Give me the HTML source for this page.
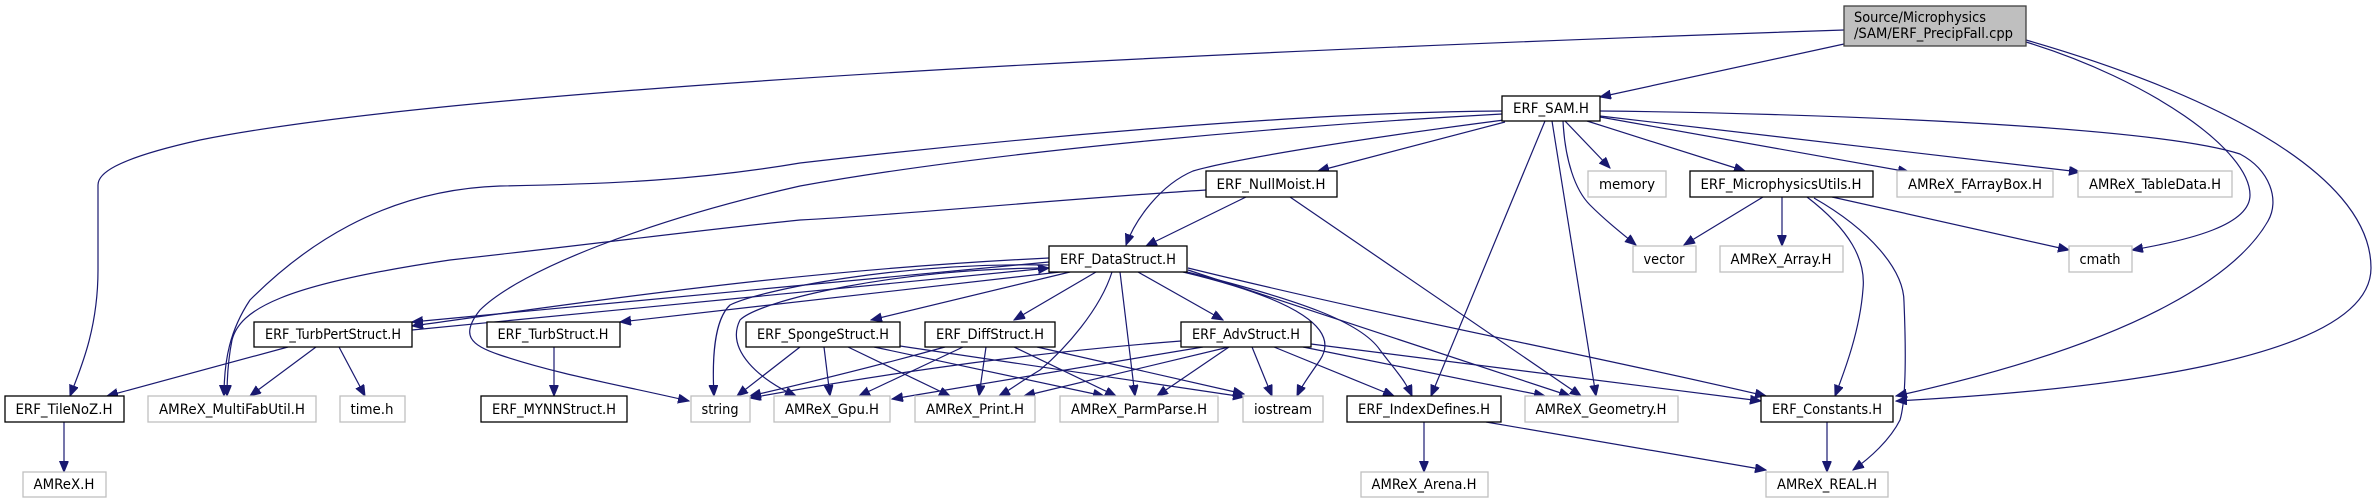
<!DOCTYPE html>
<html><head><meta charset="utf-8"><style>
html,body{margin:0;padding:0;background:#fff;}
svg{display:block;}
text{font-family:"DejaVu Sans Condensed","DejaVu Sans","Liberation Sans",sans-serif;font-size:14px;fill:#000;}
.e{fill:none;stroke:#191970;stroke-width:1.2;}
.n{fill:#fff;stroke:#000;stroke-width:1.3;}
.s{fill:#fff;stroke:#bfbfbf;stroke-width:1.3;}
</style></head><body>
<svg width="2377" height="500" viewBox="0 0 2377 500" xmlns="http://www.w3.org/2000/svg">
<defs>
<marker id="a" markerUnits="userSpaceOnUse" markerWidth="12" markerHeight="10" refX="11" refY="4.5" orient="auto">
<path d="M0,0 L11,4.5 L0,9 Z" fill="#191970" stroke="#191970"/>
</marker>
</defs>
<g class="e" marker-end="url(#a)">
<path d="M1844,44 L1600,97"/>
<path d="M1844,30 C1400,45 500,80 200,140 C110,160 98,175 98,185 L98,270 C98,330 80,370 70,396"/>
<path d="M2026,42 C2150,80 2250,150 2250,195 C2250,225 2190,240 2132,250"/>
<path d="M2026,40 C2200,90 2371,170 2371,268 C2371,360 2100,390 1896,401"/>
<path d="M1502,111 C1300,112 1000,140 800,163 C700,180 612,184 500,186 C380,190 300,250 250,300 C230,330 224,360 224,396"/>
<path d="M1502,114 C1300,125 1000,150 800,186 C650,220 520,270 480,310 C460,335 470,345 500,355 C560,375 620,385 689,401"/>
<path d="M1504,120 C1350,140 1230,160 1193,171 C1160,185 1135,220 1126,245"/>
<path d="M1505,122 L1318,171"/>
<path d="M1545,121 L1431,396"/>
<path d="M1552,121 L1596,396"/>
<path d="M1563,121 C1565,160 1575,190 1590,205 C1605,220 1620,232 1636,245"/>
<path d="M1565,121 L1610,168"/>
<path d="M1587,121 L1745,171"/>
<path d="M1600,117 L1909,172"/>
<path d="M1600,116 L2080,172"/>
<path d="M1600,111 C1800,113 2150,125 2240,154 C2270,170 2280,200 2268,221 C2240,270 2150,340 1896,396"/>
<path d="M1206,190 C1050,200 900,215 800,220 C700,230 612,242 450,260 C280,285 240,310 232,340 C228,360 227,380 227,396"/>
<path d="M1246,197 L1146,246"/>
<path d="M1290,197 L1581,396"/>
<path d="M1049,262 L412,322"/>
<path d="M412,330 L1049,268"/>
<path d="M1049,258 C800,270 600,300 412,326"/>
<path d="M1060,272 L620,322"/>
<path d="M1070,272 L871,320"/>
<path d="M1096,272 L1014,320"/>
<path d="M1138,272 L1223,320"/>
<path d="M1049,265 C900,262 760,290 730,305 C714,320 712,360 714,396"/>
<path d="M1049,268 C900,268 760,300 740,320 C725,350 760,380 796,396"/>
<path d="M1112,272 C1100,310 1065,349 1040,370 C1020,382 1010,390 999,396"/>
<path d="M1120,272 L1135,396"/>
<path d="M1183,272 C1300,300 1340,330 1320,360 C1310,375 1302,385 1297,396"/>
<path d="M1187,272 C1300,300 1361,322 1380,350 C1395,370 1405,380 1412,396"/>
<path d="M1188,270 L1570,396"/>
<path d="M1188,268 C1400,320 1577,352 1766,396"/>
<path d="M288,347 L107,396"/>
<path d="M316,347 L250,396"/>
<path d="M339,347 L365,396"/>
<path d="M554,347 L554,396"/>
<path d="M64,422 L64,472"/>
<path d="M800,347 L737,396"/>
<path d="M824,347 L830,396"/>
<path d="M848,347 L950,396"/>
<path d="M874,347 L1104,396"/>
<path d="M900,346 L1244,397"/>
<path d="M945,347 C880,365 820,380 750,396"/>
<path d="M963,347 L859,396"/>
<path d="M986,347 L979,396"/>
<path d="M1014,347 L1116,396"/>
<path d="M1037,347 L1244,394"/>
<path d="M1181,341 C1000,355 850,380 750,398"/>
<path d="M1203,347 L892,399"/>
<path d="M1229,347 L1024,396"/>
<path d="M1229,347 L1157,396"/>
<path d="M1252,347 L1272,396"/>
<path d="M1274,347 L1394,396"/>
<path d="M1303,347 L1545,396"/>
<path d="M1311,344 L1761,401"/>
<path d="M1424,422 L1424,472"/>
<path d="M1486,422 L1766,470"/>
<path d="M1827,422 L1827,472"/>
<path d="M1763,197 L1684,245"/>
<path d="M1782,197 L1782,246"/>
<path d="M1832,197 L2069,250"/>
<path d="M1807,197 C1850,230 1866,260 1863,289 C1860,330 1845,370 1835,396"/>
<path d="M1814,198 C1870,230 1904,270 1904,302 C1906,350 1906,400 1900,420 C1890,440 1870,458 1853,470"/>
</g>
<rect x="1844" y="6" width="182" height="40" fill="#bfbfbf" stroke="#404040" stroke-width="1.3"/>
<text x="1854" y="22" textLength="132" lengthAdjust="spacingAndGlyphs">Source/Microphysics</text>
<text x="1854" y="38" textLength="159" lengthAdjust="spacingAndGlyphs">/SAM/ERF_PrecipFall.cpp</text>

<g text-anchor="middle">
<rect class="n" x="1502" y="96" width="98" height="25"/><text x="1551" y="113" textLength="76" lengthAdjust="spacingAndGlyphs">ERF_SAM.H</text>

<rect class="n" x="1206" y="171" width="131" height="26"/><text x="1271" y="189" textLength="109" lengthAdjust="spacingAndGlyphs">ERF_NullMoist.H</text>
<rect class="s" x="1588" y="171" width="78" height="26"/><text x="1627" y="189" textLength="56" lengthAdjust="spacingAndGlyphs">memory</text>
<rect class="n" x="1690" y="171" width="183" height="26"/><text x="1781" y="189" textLength="161" lengthAdjust="spacingAndGlyphs">ERF_MicrophysicsUtils.H</text>
<rect class="s" x="1897" y="171" width="156" height="26"/><text x="1975" y="189" textLength="134" lengthAdjust="spacingAndGlyphs">AMReX_FArrayBox.H</text>
<rect class="s" x="2078" y="171" width="154" height="26"/><text x="2155" y="189" textLength="132" lengthAdjust="spacingAndGlyphs">AMReX_TableData.H</text>

<rect class="n" x="1049" y="246" width="138" height="26"/><text x="1118" y="264" textLength="116" lengthAdjust="spacingAndGlyphs">ERF_DataStruct.H</text>
<rect class="s" x="1633" y="246" width="63" height="26"/><text x="1664" y="264" textLength="41" lengthAdjust="spacingAndGlyphs">vector</text>
<rect class="s" x="1720" y="246" width="123" height="26"/><text x="1781" y="264" textLength="101" lengthAdjust="spacingAndGlyphs">AMReX_Array.H</text>
<rect class="s" x="2069" y="246" width="63" height="26"/><text x="2100" y="264" textLength="41" lengthAdjust="spacingAndGlyphs">cmath</text>

<rect class="n" x="254" y="322" width="158" height="25"/><text x="333" y="339" textLength="136" lengthAdjust="spacingAndGlyphs">ERF_TurbPertStruct.H</text>
<rect class="n" x="487" y="322" width="133" height="25"/><text x="553" y="339" textLength="111" lengthAdjust="spacingAndGlyphs">ERF_TurbStruct.H</text>
<rect class="n" x="746" y="322" width="154" height="25"/><text x="823" y="339" textLength="132" lengthAdjust="spacingAndGlyphs">ERF_SpongeStruct.H</text>
<rect class="n" x="925" y="322" width="130" height="25"/><text x="990" y="339" textLength="108" lengthAdjust="spacingAndGlyphs">ERF_DiffStruct.H</text>
<rect class="n" x="1181" y="322" width="130" height="25"/><text x="1246" y="339" textLength="108" lengthAdjust="spacingAndGlyphs">ERF_AdvStruct.H</text>

<rect class="n" x="5" y="396" width="119" height="26"/><text x="64" y="414" textLength="97" lengthAdjust="spacingAndGlyphs">ERF_TileNoZ.H</text>
<rect class="s" x="148" y="396" width="168" height="26"/><text x="232" y="414" textLength="146" lengthAdjust="spacingAndGlyphs">AMReX_MultiFabUtil.H</text>
<rect class="s" x="340" y="396" width="65" height="26"/><text x="372" y="414" textLength="43" lengthAdjust="spacingAndGlyphs">time.h</text>
<rect class="n" x="481" y="396" width="146" height="26"/><text x="554" y="414" textLength="124" lengthAdjust="spacingAndGlyphs">ERF_MYNNStruct.H</text>
<rect class="s" x="691" y="396" width="59" height="26"/><text x="720" y="414" textLength="37" lengthAdjust="spacingAndGlyphs">string</text>
<rect class="s" x="774" y="396" width="116" height="26"/><text x="832" y="414" textLength="94" lengthAdjust="spacingAndGlyphs">AMReX_Gpu.H</text>
<rect class="s" x="915" y="396" width="120" height="26"/><text x="975" y="414" textLength="98" lengthAdjust="spacingAndGlyphs">AMReX_Print.H</text>
<rect class="s" x="1060" y="396" width="158" height="26"/><text x="1139" y="414" textLength="136" lengthAdjust="spacingAndGlyphs">AMReX_ParmParse.H</text>
<rect class="s" x="1243" y="396" width="80" height="26"/><text x="1283" y="414" textLength="58" lengthAdjust="spacingAndGlyphs">iostream</text>
<rect class="n" x="1347" y="396" width="154" height="26"/><text x="1424" y="414" textLength="132" lengthAdjust="spacingAndGlyphs">ERF_IndexDefines.H</text>
<rect class="s" x="1525" y="396" width="153" height="26"/><text x="1601" y="414" textLength="131" lengthAdjust="spacingAndGlyphs">AMReX_Geometry.H</text>
<rect class="n" x="1761" y="396" width="132" height="26"/><text x="1827" y="414" textLength="110" lengthAdjust="spacingAndGlyphs">ERF_Constants.H</text>

<rect class="s" x="23" y="472" width="83" height="25"/><text x="64" y="489" textLength="61" lengthAdjust="spacingAndGlyphs">AMReX.H</text>
<rect class="s" x="1361" y="472" width="127" height="25"/><text x="1424" y="489" textLength="105" lengthAdjust="spacingAndGlyphs">AMReX_Arena.H</text>
<rect class="s" x="1766" y="472" width="122" height="25"/><text x="1827" y="489" textLength="100" lengthAdjust="spacingAndGlyphs">AMReX_REAL.H</text>
</g>
</svg>
</body></html>
